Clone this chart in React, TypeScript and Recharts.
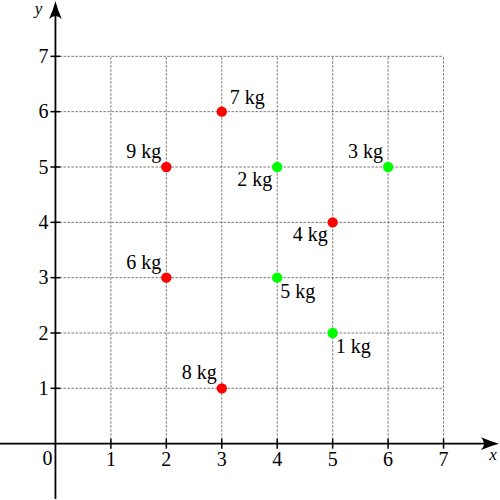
import React from "react";
import { ScatterChart, Scatter, XAxis, YAxis, ReferenceLine } from "recharts";

// points
const redPoints = [
  { x: 3, y: 6, label: "7 kg" },
  { x: 2, y: 5, label: "9 kg" },
  { x: 5, y: 4, label: "4 kg" },
  { x: 2, y: 3, label: "6 kg" },
  { x: 3, y: 1, label: "8 kg" },
];

const greenPoints = [
  { x: 4, y: 5, label: "2 kg" },
  { x: 6, y: 5, label: "3 kg" },
  { x: 4, y: 3, label: "5 kg" },
  { x: 5, y: 2, label: "1 kg" },
];

const xTicks = [1, 2, 3, 4, 5, 6, 7];
const yTicks = [1, 2, 3, 4, 5, 6, 7];
const gridMax = 7;
const domain: [number, number] = [-1, 8];

// where each weight label sits relative to its dot
const labelSide: Record<string, string> = {
  "7 kg": "ar",
  "9 kg": "al",
  "2 kg": "bl",
  "3 kg": "al",
  "4 kg": "bl",
  "6 kg": "al",
  "5 kg": "br",
  "1 kg": "br",
  "8 kg": "al",
};

const sideOffset: Record<string, { dx: number; dy: number; anchor: "start" | "end" }> = {
  al: { dx: -5, dy: -9, anchor: "end" },
  ar: { dx: 8, dy: -8, anchor: "start" },
  bl: { dx: -5, dy: 19, anchor: "end" },
  br: { dx: 3, dy: 20, anchor: "start" },
};

const FONT = "Liberation Serif";

const makeDot = (color: string) => (props: any) => {
  const { cx, cy, payload } = props;
  const off = sideOffset[labelSide[payload.label]] || sideOffset.ar;
  return (
    <g>
      <circle cx={cx} cy={cy} r={5.2} fill={color} />
      <text
        x={cx + off.dx}
        y={cy + off.dy}
        textAnchor={off.anchor}
        fontFamily={FONT}
        fontSize={20}
        fill="#000"
      >
        {payload.label}
      </text>
    </g>
  );
};

const arrowAxis = (name: string, nameDx: number, nameDy: number) => (props: any) => {
  const { x1, y1, x2, y2 } = props;
  const len = Math.hypot(x2 - x1, y2 - y1);
  const ux = (x2 - x1) / len;
  const uy = (y2 - y1) / len;
  const nx = -uy;
  const ny = ux;
  const p = (a: number, b: number) => `${x2 + ux * a + nx * b},${y2 + uy * a + ny * b}`;
  const head = `M${p(0, 0)} Q${p(-8, 2)} ${p(-18, 6.3)} Q${p(-12, 0)} ${p(-18, -6.3)} Q${p(-8, -2)} ${p(0, 0)} Z`;
  return (
    <g>
      <line x1={x1} y1={y1} x2={x2 - ux * 12} y2={y2 - uy * 12} stroke="#000" strokeWidth={1.8} />
      <path d={head} fill="#000" />
      <text
        x={x2 + nameDx}
        y={y2 + nameDy}
        textAnchor="middle"
        fontFamily={FONT}
        fontStyle="italic"
        fontSize={17}
      >
        {name}
      </text>
    </g>
  );
};

const xTick = (label: string) => (props: any) => {
  const { x1, y1, y2 } = props;
  const cy = (y1 + y2) / 2;
  return (
    <g>
      <line x1={x1} y1={cy - 5} x2={x1} y2={cy + 5} stroke="#000" strokeWidth={1.5} />
      <text x={x1} y={cy + 22} textAnchor="middle" fontFamily={FONT} fontSize={20}>
        {label}
      </text>
    </g>
  );
};

const yTick = (label: string) => (props: any) => {
  const { x1, x2, y1 } = props;
  const cx = (x1 + x2) / 2;
  return (
    <g>
      <line x1={cx - 5} y1={y1} x2={cx + 5} y2={y1} stroke="#000" strokeWidth={1.5} />
      <text x={cx - 7} y={y1 + 6.7} textAnchor="end" fontFamily={FONT} fontSize={20}>
        {label}
      </text>
    </g>
  );
};

const originLabel = (props: any) => {
  const { x1, y1 } = props;
  return (
    <text x={x1 - 3} y={y1 + 21} textAnchor="end" fontFamily={FONT} fontSize={20}>
      0
    </text>
  );
};

const gridStyle = { stroke: "#555", strokeWidth: 0.8, strokeDasharray: "2.5 1.5" };

export default function App() {
  return (
    <div style={{ position: "absolute", left: 0, top: 0 }}>
      <ScatterChart width={500} height={500} margin={{ top: 1, right: 1, bottom: 1, left: 0 }}>
        <XAxis type="number" dataKey="x" domain={domain} hide />
        <YAxis type="number" dataKey="y" domain={domain} hide />

        {xTicks.map((v) => (
          <ReferenceLine
            key={`gx${v}`}
            segment={[{ x: v, y: 0 }, { x: v, y: gridMax }]}
            {...gridStyle}
          />
        ))}
        {yTicks.map((v) => (
          <ReferenceLine
            key={`gy${v}`}
            segment={[{ x: 0, y: v }, { x: gridMax, y: v }]}
            {...gridStyle}
          />
        ))}

        <ReferenceLine
          segment={[{ x: domain[0], y: 0 }, { x: domain[1], y: 0 }]}
          shape={arrowAxis("x", -6, 16)}
        />
        <ReferenceLine
          segment={[{ x: 0, y: domain[0] }, { x: 0, y: domain[1] }]}
          shape={arrowAxis("y", -17, 13)}
        />

        {xTicks.map((v) => (
          <ReferenceLine
            key={`tx${v}`}
            segment={[{ x: v, y: -0.1 }, { x: v, y: 0.1 }]}
            shape={xTick(String(v))}
          />
        ))}
        {yTicks.map((v) => (
          <ReferenceLine
            key={`ty${v}`}
            segment={[{ x: -0.1, y: v }, { x: 0.1, y: v }]}
            shape={yTick(String(v))}
          />
        ))}
        <ReferenceLine segment={[{ x: 0, y: 0 }, { x: 0.01, y: 0 }]} shape={originLabel} />

        <Scatter data={redPoints} shape={makeDot("#ff0000")} isAnimationActive={false} />
        <Scatter data={greenPoints} shape={makeDot("#00ff00")} isAnimationActive={false} />
      </ScatterChart>
    </div>
  );
}
